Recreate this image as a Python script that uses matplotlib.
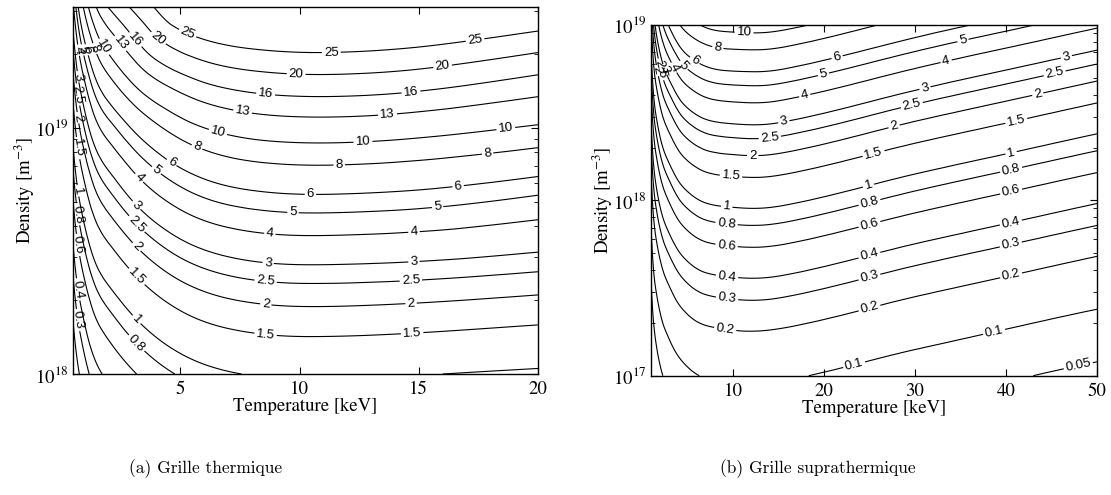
import numpy as np
import matplotlib
matplotlib.use('Agg')
import matplotlib.pyplot as plt
import matplotlib.tri as mtri
from matplotlib.ticker import NullFormatter

plt.rcParams.update({'font.family': 'STIXGeneral', 'mathtext.fontset': 'stix',
                     'contour.negative_linestyle': 'solid'})

# (a) thermal grid: temperature [keV] x density [m^-3], one row per density
temp_a = [0.5, 0.75, 1, 1.5, 2, 3, 4, 5, 6.5, 8, 10, 13, 16, 20]
dens_a = [1e18, 1.78e18, 3.16e18, 5.62e18, 1e19, 1.78e19, 3.16e19]
val_a = [
    [0.124, 0.196, 0.256, 0.366, 0.439, 0.577, 0.710, 0.824, 0.947, 1.016, 1.051, 1.039, 1.0, 0.95],
    [0.214, 0.342, 0.449, 0.647, 0.778, 1.027, 1.267, 1.475, 1.699, 1.823, 1.889, 1.866, 1.8, 1.69],
    [0.375, 0.604, 0.796, 1.154, 1.392, 1.845, 2.284, 2.667, 3.077, 3.31, 3.43, 3.39, 3.27, 3.03],
    [0.662, 1.076, 1.424, 2.078, 2.512, 3.35, 4.16, 4.86, 5.63, 6.05, 6.28, 6.2, 5.9, 5.28],
    [1.181, 1.934, 2.572, 3.77, 4.58, 6.13, 7.64, 8.96, 10.38, 11.19, 11.61, 11.47, 10.8, 9.7],
    [2.127, 3.51, 4.69, 7.05, 8.8, 12.0, 15.0, 17.2, 19.6, 20.9, 21.67, 21.39, 20.0, 17.4],
    [3.87, 6.43, 8.8, 13.5, 16.5, 21.0, 26.0, 32.5, 36.8, 39.3, 40.8, 40.3, 37.5, 33.0],
]
levels_a = [0.2, 0.3, 0.4, 0.6, 0.8, 1, 1.5, 2, 2.5, 3, 4, 5, 6, 8, 10, 13, 16, 20, 25]

# (b) suprathermal grid
temp_b = [1, 1.25, 1.5, 2, 2.5, 3, 4, 5, 7, 10, 13, 16, 20, 25, 30, 40, 50]
dens_b = [1e17, 3.16e17, 1e18, 3.16e18, 1e19]
val_b = [
    [0.0141, 0.0240, 0.0316, 0.0437, 0.0537, 0.0617, 0.0776, 0.0891, 0.1035, 0.1096, 0.1109,
     0.1059, 0.0955, 0.0822, 0.0708, 0.0543, 0.0417],
    [0.0447, 0.0759, 0.100, 0.138, 0.170, 0.195, 0.245, 0.282, 0.327, 0.347, 0.351,
     0.335, 0.302, 0.260, 0.224, 0.172, 0.132],
    [0.141, 0.240, 0.316, 0.437, 0.537, 0.617, 0.776, 0.891, 1.035, 1.096, 1.109,
     1.059, 0.955, 0.822, 0.708, 0.543, 0.417],
    [0.447, 0.759, 1.00, 1.38, 1.70, 1.95, 2.45, 2.82, 3.27, 3.47, 3.51,
     3.35, 3.02, 2.60, 2.24, 1.72, 1.32],
    [1.41, 2.40, 3.16, 4.37, 5.37, 6.17, 7.76, 8.91, 10.35, 10.96, 11.09,
     10.59, 9.55, 8.22, 7.08, 5.43, 4.17],
]
levels_b = [0.05, 0.1, 0.2, 0.3, 0.4, 0.6, 0.8, 1, 1.5, 2, 2.5, 3, 4, 5, 6, 8, 10]


def contour_panel(ax, temps, dens, vals, levels):
    # grid -> triangles, smoothed by a cubic refinement in (log T, log n) space
    logt = np.log10(temps)
    logn = np.log10(dens)
    tt, nn = np.meshgrid(logt, logn)
    logz = np.log10(np.array(vals, dtype=float)).ravel()
    x0, x1 = logt.min(), logt.max()
    y0, y1 = logn.min(), logn.max()
    ncol = len(temps)
    tris = []
    for j in range(len(dens) - 1):
        for i in range(ncol - 1):
            a = j * ncol + i
            tris.append([a, a + 1, a + ncol + 1])
            tris.append([a, a + ncol + 1, a + ncol])
    tri = mtri.Triangulation((tt.ravel() - x0) / (x1 - x0), (nn.ravel() - y0) / (y1 - y0), tris)
    interp = mtri.CubicTriInterpolator(tri, logz, kind='min_E')
    fine, fine_z = mtri.UniformTriRefiner(tri).refine_field(logz, triinterpolator=interp, subdiv=4)
    fx = 10 ** (x0 + fine.x * (x1 - x0))
    fy = 10 ** (y0 + fine.y * (y1 - y0))
    return ax.tricontour(mtri.Triangulation(fx, fy, fine.triangles), fine_z,
                         levels=np.log10(levels), colors='k', linewidths=0.8)


def label_spots(ax, cs, spacing=145, first=45):
    # matlab-like labelling: a label every `spacing` pixels along each line
    spots = []
    to_data = ax.transData.inverted()
    box = ax.bbox
    for path in cs.get_paths():
        verts, codes = path.vertices, path.codes
        if len(verts) < 2:
            continue
        starts = list(np.flatnonzero(codes == 1)) if codes is not None else [0]
        for a, b in zip(starts, starts[1:] + [len(verts)]):
            pix = ax.transData.transform(verts[a:b])
            if len(pix) < 2:
                continue
            arc = np.r_[0, np.cumsum(np.hypot(*np.diff(pix, axis=0).T))]
            s = first
            while s < arc[-1] - 18:
                p = pix[np.searchsorted(arc, s)]
                if box.x0 + 4 < p[0] < box.x1 - 4 and box.y0 + 4 < p[1] < box.y1 - 4:
                    spots.append(tuple(to_data.transform(p)))
                s += spacing
    return spots


def style_axes(ax, xticks):
    ax.set_yscale('log')
    ax.set_xticks(xticks)
    ax.yaxis.set_minor_formatter(NullFormatter())
    ax.tick_params(which='both', direction='in', top=True, right=True, labelsize=13.5)
    ax.tick_params(axis='x', pad=5)
    ax.tick_params(which='major', length=5)
    ax.tick_params(which='minor', length=3)
    ax.set_xlabel('Temperature [keV]', fontsize=13.5, labelpad=0)
    ax.set_ylabel('Density [m$^{-3}$]', fontsize=13.5, labelpad=-2)
    for s in ax.spines.values():
        s.set_linewidth(1.0)


def add_labels(ax, cs):
    with plt.rc_context({'font.family': 'Liberation Sans'}):
        cs.clabel(manual=label_spots(ax, cs), inline=True, inline_spacing=2, fontsize=9.5,
                  fmt=lambda v: '%g' % round(10 ** v, 2))


fig = plt.figure(figsize=(11.11, 4.95), dpi=100)

ax_a = fig.add_axes([0.0657, 0.2444, 0.4185, 0.7414])
cs_a = contour_panel(ax_a, temp_a, dens_a, val_a, levels_a)
style_axes(ax_a, [5, 10, 15, 20])
ax_a.set_xlim(0.5, 20)
ax_a.set_ylim(1e18, 3.1e19)
add_labels(ax_a, cs_a)

ax_b = fig.add_axes([0.5860, 0.2410, 0.4014, 0.7085])
cs_b = contour_panel(ax_b, temp_b, dens_b, val_b, levels_b)
style_axes(ax_b, [10, 20, 30, 40, 50])
ax_b.set_xlim(1, 50)
ax_b.set_ylim(1e17, 1e19)
add_labels(ax_b, cs_b)

fig.text(0.185, 0.045, '(a) Grille thermique', fontname='cmr10', fontsize=12.5, ha='center')
fig.text(0.736, 0.045, '(b) Grille suprathermique', fontname='cmr10', fontsize=12.5, ha='center')

fig.savefig('out.png', dpi=100)
